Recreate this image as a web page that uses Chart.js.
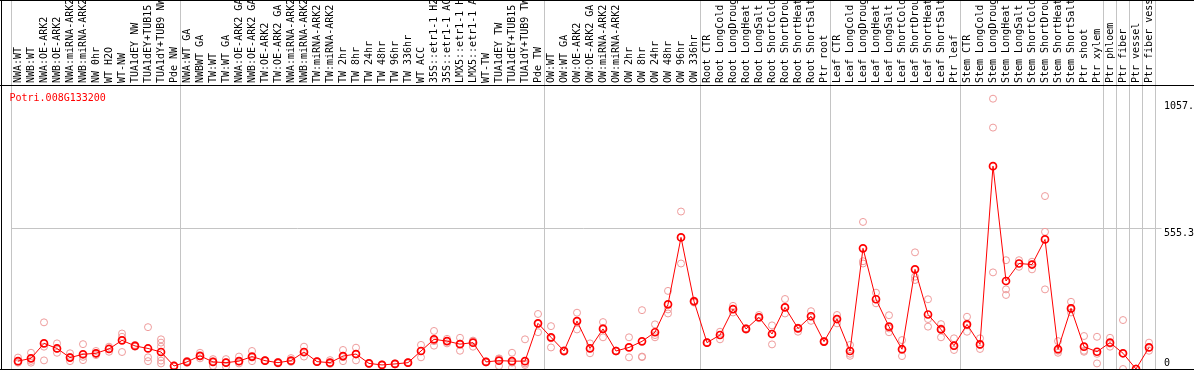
<!DOCTYPE html>
<html>
<head>
<meta charset="utf-8">
<title>Potri.008G133200</title>
<script src="https://cdn.jsdelivr.net/npm/chart.js@4.4.1/dist/chart.umd.min.js"></script>
<style>
html, body { margin:0; padding:0; background:#ffffff; }
#box { width:1194px; height:370px; }
canvas { display:block; }
</style>
</head>
<body>
<div id="box"><canvas id="chart" width="1194" height="370"></canvas></div>
<script>
const geneTitle = 'Potri.008G133200';

const categories = [
  'NWA:WT','NWB:WT','NWA:OE-ARK2','NWB:OE-ARK2','NWA:miRNA-ARK2','NWB:miRNA-ARK2','NW 0hr','WT H2O','WT-NW','TUA1dEY NW','TUA1dEY+TUB15 NW','TUA1dY+TUB9 NW','Pde NW',
  'NWA:WT GA','NWBWT GA','TW:WT','TW:WT GA','NWA:OE-ARK2 GA','NWB:OE-ARK2 GA','TW:OE-ARK2','TW:OE-ARK2 GA','NWA:miRNA-ARK2 GA','NWB:miRNA-ARK2 GA','TW:miRNA-ARK2','TW:miRNA-ARK2 GA',
  'TW 2hr','TW 8hr','TW 24hr','TW 48hr','TW 96hr','TW 336hr','WT ACC','35S::etr1-1 H2O','35S::etr1-1 ACC','LMX5::etr1-1 H2O','LMX5::etr1-1 ACC','WT-TW','TUA1dEY TW','TUA1dEY+TUB15 TW','TUA1dY+TUB9 TW','Pde TW',
  'OW:WT','OW:WT GA','OW:OE-ARK2','OW:OE-ARK2 GA','OW:miRNA-ARK2','OW:miRNA-ARK2 GA','OW 2hr','OW 8hr','OW 24hr','OW 48hr','OW 96hr','OW 336hr',
  'Root CTR','Root LongCold','Root LongDrought','Root LongHeat','Root LongSalt','Root ShortCold','Root ShortDrought','Root ShortHeat','Root ShortSalt','Ptr root',
  'Leaf CTR','Leaf LongCold','Leaf LongDrought','Leaf LongHeat','Leaf LongSalt','Leaf ShortCold','Leaf ShortDrought','Leaf ShortHeat','Leaf ShortSalt','Ptr leaf',
  'Stem CTR','Stem LongCold','Stem LongDrought','Stem LongHeat','Stem LongSalt','Stem ShortCold','Stem ShortDrought','Stem ShortHeat','Stem ShortSalt',
  'Ptr shoot','Ptr xylem','Ptr phloem','Ptr fiber','Ptr vessel','Ptr fiber vessel'
];

const meanValues = [
  31,42,101,81,45,58,62,79,113,91,81,67,12,
  28,52,28,25,31,49,33,25,33,67,29,25,51,59,22,16,20,25,71,117,110,98,104,28,33,31,31,180,
  125,71,189,81,158,71,85,109,145,255,519,267,
  104,134,236,158,204,138,243,160,208,108,
  197,71,476,275,167,78,393,215,156,92,
  176,97,800,347,416,412,511,78,239,
  88,68,104,62,0,85
];

const rep1 = [
  45,64,184,101,62,98,71,88,140,95,165,117,12,
  24,64,39,39,49,71,35,25,43,88,29,35,75,84,22,16,20,25,95,150,101,123,88,28,42,64,117,217,
  169,71,222,101,185,71,125,232,176,308,621,270,
  104,147,249,158,213,172,276,147,228,108,
  213,95,580,301,212,114,460,275,177,121,
  206,121,1066,429,429,423,682,110,265,
  130,127,123,193,2,104
];

const rep2 = [
  25,25,88,64,31,35,55,68,67,88,46,104,10,
  32,42,12,9,22,31,31,22,28,49,27,20,31,34,20,14,18,23,46,92,110,72,110,26,12,5,16,145,
  85,68,156,62,125,69,46,47,125,219,416,262,
  102,117,223,155,200,97,219,160,190,106,
  180,52,425,259,145,51,364,197,125,75,
  147,79,952,314,403,393,541,64,223,
  72,22,88,0,0,72
];

const rep3 = [
  30,32,34,80,48,48,60,80,127,90,31,88,14,
  28,50,30,27,30,45,33,28,30,64,31,22,47,59,24,18,22,27,71,110,119,100,112,30,40,25,22,178,
  121,74,189,81,162,73,86,49,134,235,519,267,
  106,134,236,161,204,138,243,163,208,110,
  197,60,416,275,160,75,351,167,160,90,
  172,95,381,292,416,412,314,72,235,
  68,60,100,62,1,85
];

const extraRepCategory = 'TUA1dY+TUB9 NW';
const extraRepValues = [46, 33, 22];

const yTickValues = [0, 555.3, 1057.6];
const yMax = 1120;
const groupStarts = [0, 13, 41, 53, 63, 73, 84, 85, 86, 87, 88];

const MONO = "'DejaVu Sans Mono', 'Liberation Mono', monospace";
const MEAN_COLOR = '#ff0000';
const REP_COLOR = '#ef9c9c';
const GRID_COLOR = '#c4c4c4';

const decorPlugin = {
  id: 'decor',
  beforeDraw(chart) {
    const ctx = chart.ctx;
    const x = chart.scales.x;
    ctx.save();
    ctx.fillStyle = '#ffffff';
    ctx.fillRect(0, 0, chart.width, chart.height);
    const step = x.getPixelForTick(1) - x.getPixelForTick(0);
    const start = x.getPixelForTick(0) - step / 2;
    ctx.strokeStyle = GRID_COLOR;
    ctx.lineWidth = 1;
    groupStarts.forEach(b => {
      const px = start + b * step;
      ctx.beginPath();
      ctx.moveTo(px, 0);
      ctx.lineTo(px, chart.height);
      ctx.stroke();
    });
    ctx.restore();
  },
  afterDraw(chart) {
    const ctx = chart.ctx;
    const area = chart.chartArea;
    ctx.save();
    ctx.fillStyle = '#000000';
    ctx.fillRect(0, Math.round(area.top), chart.width, 1);
    ctx.fillRect(1, 0, 1, chart.height);
    ctx.fillRect(0, 0, chart.width, 1);
    ctx.fillRect(0, chart.height - 1, chart.width, 1);
    ctx.fillStyle = MEAN_COLOR;
    ctx.font = '10px ' + MONO;
    ctx.textBaseline = 'alphabetic';
    ctx.textAlign = 'left';
    ctx.fillText(geneTitle, area.left - 2, area.top + 16);
    ctx.restore();
  }
};

function repDataset(label, data) {
  return {
    label: label,
    data: data,
    showLine: false,
    pointRadius: 3.5,
    pointBorderWidth: 1,
    pointBorderColor: REP_COLOR,
    pointBackgroundColor: 'rgba(0,0,0,0)',
    borderColor: REP_COLOR,
    clip: false
  };
}

new Chart(document.getElementById('chart'), {
  type: 'line',
  data: {
    labels: categories,
    datasets: [
      {
        label: 'mean',
        data: meanValues,
        borderColor: MEAN_COLOR,
        borderWidth: 1,
        tension: 0,
        pointRadius: 3.5,
        pointBorderWidth: 1.7,
        pointBorderColor: MEAN_COLOR,
        pointBackgroundColor: 'rgba(255,255,255,0)',
        clip: false
      },
      repDataset('rep1', rep1),
      repDataset('rep2', rep2),
      repDataset('rep3', rep3),
      repDataset('rep extra', extraRepValues.map(v => ({ x: extraRepCategory, y: v })))
    ]
  },
  options: {
    responsive: false,
    animation: false,
    devicePixelRatio: 1,
    layout: { autoPadding: false, padding: { left: 11.5, right: 0, top: 0, bottom: 1 } },
    plugins: {
      legend: { display: false },
      tooltip: { enabled: false },
      title: { display: false }
    },
    scales: {
      x: {
        type: 'category',
        position: 'top',
        offset: true,
        grid: { display: false, drawTicks: false },
        border: { display: false },
        ticks: {
          autoSkip: false,
          minRotation: 90,
          maxRotation: 90,
          padding: 2,
          labelOffset: 12.5,
          color: '#000000',
          font: { family: MONO, size: 10 }
        },
        afterFit(scale) { scale.height = 85; scale.paddingLeft = 0; scale.paddingRight = 0; }
      },
      y: {
        type: 'linear',
        position: 'right',
        min: 0,
        max: yMax,
        afterBuildTicks(scale) { scale.ticks = yTickValues.map(v => ({ value: v })); },
        grid: {
          color: c => (c.tick && c.tick.value === 555.3) ? GRID_COLOR : 'rgba(0,0,0,0)',
          drawTicks: true,
          tickLength: 6
        },
        border: { display: false },
        ticks: {
          padding: 2.5,
          color: '#000000',
          font: { family: MONO, size: 10, lineHeight: 1.1 },
          callback: v => v === 0 ? ['0', ''] : ['', v.toFixed(1)]
        },
        afterFit(scale) { scale.width = 38.5; scale.paddingTop = 0; scale.paddingBottom = 0; }
      }
    }
  },
  plugins: [decorPlugin]
});
</script>
</body>
</html>
